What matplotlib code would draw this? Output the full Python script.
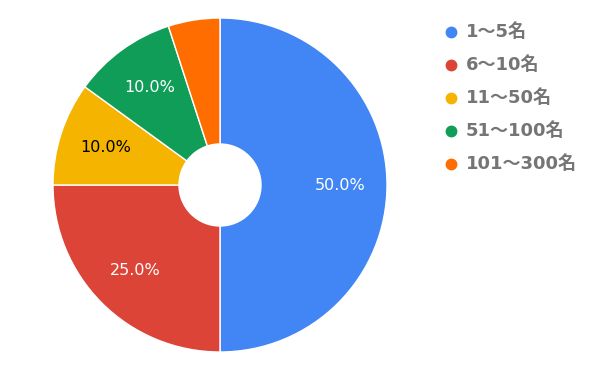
import matplotlib
matplotlib.use("Agg")
import matplotlib.pyplot as plt
from matplotlib.lines import Line2D

categories = ["1～5名", "6～10名", "11～50名", "51～100名", "101～300名"]
values = [50.0, 25.0, 10.0, 10.0, 5.0]
colors = ["#4285F4", "#DB4437", "#F4B400", "#0F9D58", "#FF6D00"]
label_colors = ["white", "white", "black", "white", "white"]

W, H = 600, 371
fig = plt.figure(figsize=(W / 100, H / 100), dpi=100)
fam = ["DejaVu Sans", "Noto Sans CJK JP"]

cx, cy, r = 220, 185, 167
ax = fig.add_axes([(cx - r) / W, (H - cy - r) / H, 2 * r / W, 2 * r / H])
wedges, texts, autotexts = ax.pie(
    values, colors=colors, startangle=90, counterclock=False,
    autopct=lambda p: f"{p:.1f}%" if p >= 7 else "", pctdistance=0.72,
    wedgeprops=dict(width=1 - 41 / 167, edgecolor="white", linewidth=1),
    textprops=dict(family=fam, fontsize=11.5))
for t, c in zip(autotexts, label_colors):
    t.set_color(c)
ax.set_xlim(-1, 1)
ax.set_ylim(-1, 1)
ax.set_aspect("equal")
ax.axis("off")

# legend
lx, ly0, dy = 451, 32, 33
for i, (cat, col) in enumerate(zip(categories, colors)):
    y = 1 - (ly0 + i * dy) / H
    fig.add_artist(Line2D([lx / W], [y], marker="o", markersize=7.5, color=col,
                          linestyle="none", transform=fig.transFigure))
    fig.text(466 / W, y, cat, color="#757575", fontsize=13, fontweight="bold",
             ha="left", va="center", family=fam)

fig.savefig("out.png", dpi=100)
